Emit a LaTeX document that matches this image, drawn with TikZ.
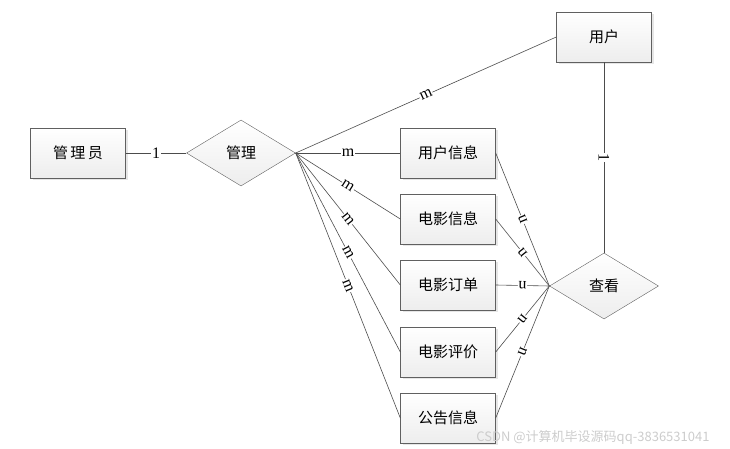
\documentclass[tikz,border=0pt]{standalone}
\usepackage{fontspec}
\setmainfont{Liberation Serif}
\newfontfamily\cjk{Noto Sans CJK SC}
\usetikzlibrary{shapes.geometric,shadows}
\tikzset{
  entity/.style = {
    draw=gray!75!black, top color=white, bottom color=gray!14,
    minimum width=95pt, minimum height=50pt, inner sep=0pt,
    drop shadow={opacity=0.2, shadow xshift=2pt, shadow yshift=-2pt},
    font=\cjk\fontsize{15}{15}\selectfont
  },
  relation/.style = {
    diamond, aspect=1.65, draw=gray!75!black, top color=white, bottom color=gray!14,
    minimum width=109pt, minimum height=66pt, inner sep=0pt,
    font=\cjk\fontsize{15}{15}\selectfont
  },
  link/.style = {draw=gray!60!black, line width=0.6pt},
  card/.style = {midway, sloped, fill=white, inner sep=0.6pt,
    font=\fontsize{16}{16}\selectfont}
}

\begin{document}
\begin{tikzpicture}[x=1pt,y=-1pt]
  \useasboundingbox (0,0) rectangle (730,449);
  % entities
  \node[entity] (admin) at (78,153) {管\,理\,员};
  \node[entity] (user) at (604,37) {用户};
  \node[entity] (userinfo) at (448,153) {用户信息};
  \node[entity] (movieinfo) at (448,219) {电影信息};
  \node[entity] (order) at (448,285) {电影订单};
  \node[entity] (review) at (448,352) {电影评价};
  \node[entity] (notice) at (448,418) {公告信息};
  % relations
  \node[relation] (manage) at (241,153) {管理};
  \node[relation] (view) at (604,286) {查看};
  % manage links
  \draw[link] (admin.east) -- node[card] {1} (manage.west);
  \draw[link] (manage.east) -- node[card] {m} (user.west);
  \foreach \t in {userinfo,movieinfo,order,review,notice}
    \draw[link] (manage.east) -- node[card] {m} (\t.west);
  % view links
  \foreach \t in {userinfo,movieinfo,order,review,notice}
    \draw[link] (view.west) -- node[card,allow upside down] {n} (\t.east);
  \draw[link] (user.south) -- node[card] {1} (view.north);
  % watermark
  \node[text=gray!40, font=\cjk\fontsize{13}{13}\selectfont] (mark) at (593,437) {CSDN @计算机毕设源码qq-3836531041};
\end{tikzpicture}
\end{document}
